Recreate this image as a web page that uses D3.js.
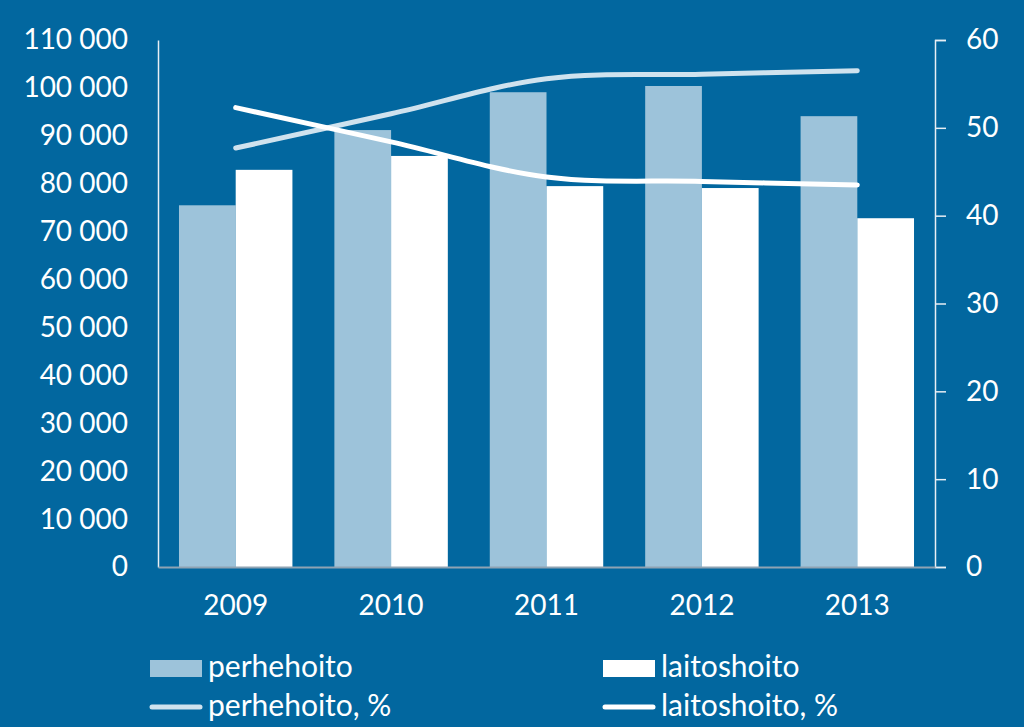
<!DOCTYPE html>
<html><head><meta charset="utf-8">
<script src="https://cdn.jsdelivr.net/npm/d3@7"></script>
<style>html,body{margin:0;padding:0;background:#02679f;}svg{display:block;}</style>
</head><body>
<svg id="c" width="1024" height="727"></svg>
<script>
const years = ["2009","2010","2011","2012","2013"];
const perhehoito = [75500, 91200, 99100, 100400, 94100];
const laitoshoito = [82900, 85800, 79500, 79100, 72800];
const perhehoitoPct = [47.7, 51.6, 55.6, 56.1, 56.5];
const laitoshoitoPct = [52.3, 48.4, 44.4, 43.9, 43.5];
const leftTicks = [0,10000,20000,30000,40000,50000,60000,70000,80000,90000,100000,110000];
const rightTicks = [0,10,20,30,40,50,60];
const seriesNames = ["perhehoito","laitoshoito","perhehoito, %","laitoshoito, %"];

const BG = "#02679f", LIGHT = "#9dc3da", WHITE = "#ffffff", LINE_LIGHT = "#cfe2ee";
const font = "Lato, 'Open Sans', sans-serif";
const svg = d3.select("#c");
svg.append("rect").attr("width",1024).attr("height",727).attr("fill",BG);

const m = {l:158, r:935, t:40, b:567};
const x = d3.scaleBand().domain(years).range([m.l, m.r]).paddingInner(0.27).paddingOuter(0.135);
const sub = d3.scaleBand().domain(["p","l"]).range([0, x.bandwidth()]);
const y = d3.scaleLinear().domain([0,110000]).range([m.b, m.t]);
const y2 = d3.scaleLinear().domain([0,60]).range([m.b, m.t]);

const fmt = v => d3.format(",")(v).replace(/,/g, " ");

// bars
const g = svg.append("g");
years.forEach((yr,i)=>{
  g.append("rect").attr("x", x(yr)+sub("p")).attr("width", sub.bandwidth())
    .attr("y", y(perhehoito[i])).attr("height", y(0)-y(perhehoito[i])).attr("fill", LIGHT);
  g.append("rect").attr("x", x(yr)+sub("l")).attr("width", sub.bandwidth())
    .attr("y", y(laitoshoito[i])).attr("height", y(0)-y(laitoshoito[i])).attr("fill", WHITE);
});

// left axis (line only, labels)
const la = svg.append("g").attr("transform",`translate(${m.l},0)`)
  .call(d3.axisLeft(y).tickValues(leftTicks).tickFormat(fmt).tickSize(0).tickPadding(30));
la.select(".domain").attr("stroke","#e8eef4").attr("stroke-width",1.5);
la.selectAll("text").attr("fill","#fff").attr("font-family",font).attr("font-size",28);

// right axis
const ra = svg.append("g").attr("transform",`translate(${m.r},0)`)
  .call(d3.axisRight(y2).tickValues(rightTicks).tickSize(11).tickSizeOuter(11).tickPadding(20));
ra.select(".domain").attr("stroke","#e8eef4").attr("stroke-width",1.5);
ra.selectAll("line").attr("stroke","#e8eef4").attr("stroke-width",1.5);
ra.selectAll("text").attr("fill","#fff").attr("font-family",font).attr("font-size",28);

// bottom axis
const ba = svg.append("g").attr("transform",`translate(0,${m.b})`)
  .call(d3.axisBottom(x).tickSize(0).tickPadding(28));
ba.select(".domain").attr("stroke","#8fa3b3").attr("stroke-width",2);
ba.selectAll("text").attr("fill","#fff").attr("font-family",font).attr("font-size",28);

// lines
const line = d3.line().x((d,i)=>x(years[i])+x.bandwidth()/2).y(d=>y2(d)).curve(d3.curveCatmullRom.alpha(0.5));
svg.append("path").attr("d", line(perhehoitoPct)).attr("fill","none").attr("stroke",LINE_LIGHT)
  .attr("stroke-width",5).attr("stroke-linecap","round");
svg.append("path").attr("d", line(laitoshoitoPct)).attr("fill","none").attr("stroke",WHITE)
  .attr("stroke-width",5).attr("stroke-linecap","round");

// legend
const lg = svg.append("g").attr("font-family",font).attr("font-size",30).attr("fill","#fff");
const legendPos = [[150,660],[603,660],[150,707],[603,707]];
seriesNames.forEach((n,i)=>{
  const [lx,ly] = legendPos[i];
  if (i<2) {
    lg.append("rect").attr("x",lx).attr("y",ly).attr("width",52).attr("height",17)
      .attr("fill", i===0?LIGHT:WHITE);
    lg.append("text").attr("x",lx+58).attr("y",ly+17).text(n);
  } else {
    lg.append("line").attr("x1",lx+2).attr("x2",lx+50).attr("y1",ly).attr("y2",ly)
      .attr("stroke", i===2?LINE_LIGHT:WHITE).attr("stroke-width",5).attr("stroke-linecap","round");
    lg.append("text").attr("x",lx+58).attr("y",ly+9).text(n);
  }
});
</script>
</body></html>
